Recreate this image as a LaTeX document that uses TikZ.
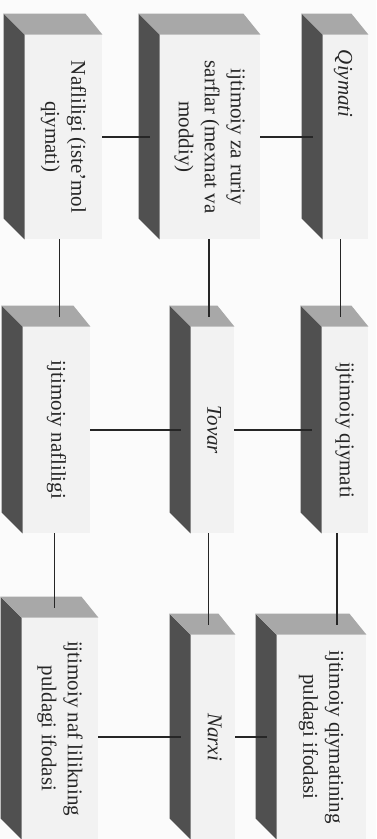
\documentclass[tikz,border=0pt]{standalone}
\usepackage{fontspec}
\setmainfont{Liberation Serif}
\usetikzlibrary{fit,calc}
\definecolor{paper}{HTML}{FBFBFB}
\definecolor{slab}{HTML}{F2F2F2}
\definecolor{slabside}{HTML}{505050}
\definecolor{slabtop}{HTML}{A8A8A8}
\definecolor{ink}{HTML}{262626}
\tikzset{fig/.style={x=0.5pt,y=-0.5pt,line join=round},
  slabface/.style={fill=slab,inner sep=0pt,font=\fontsize{10.5}{13}\selectfont,text=ink},
  slabtext/.style={inner sep=0pt,font=\fontsize{10.5}{13}\selectfont,text=ink},
  link/.style={ink,line width=0.7pt}}
\newcommand{\figTxt}[1]{\rotatebox{-90}{\begin{tabular}{@{}c@{}}#1\end{tabular}}}
\newcommand{\figSlab}[4]{\node[slabface,fit={#2 #3}](#1){#4};
  \fill[slabside](#1.north west)--++(-21,-21)--($(#1.south west)+(-21,-21)$)--(#1.south west)--cycle;
  \fill[slabtop](#1.north west)--++(-21,-21)--($(#1.north east)+(-17,-21)$)--(#1.north east)--cycle;
  \coordinate(#1top)at($(#1.north)+(-10,-10)$);}

\begin{document}
\begin{tikzpicture}[fig]
  \useasboundingbox[fill=paper](0,0)rectangle(376,839);
  \figSlab{nafl}{(25,35)}{(102,239)}{\figTxt{Nafliligi (iste'mol\\qiymati)}}
  \figSlab{sarf}{(160,35)}{(260,239)}{\figTxt{ijtimoiy za ruriy\\sarflar (mexnat va\\moddiy)}}
  \figSlab{qiym}{(323,35)}{(368,239)}{}
  \node[slabtext,anchor=north](qiymt)at($(qiym.north)+(-2,15)$){\figTxt{\textit{Qiymati}}};
  \figSlab{ijnaf}{(23,327)}{(90,533)}{\figTxt{ijtimoiy nafliligi}}
  \figSlab{tovar}{(191,327)}{(234,533)}{\figTxt{\textit{Tovar}}}
  \figSlab{ijqiy}{(322,327)}{(368,533)}{\figTxt{ijtimoiy qiymati}}
  \figSlab{pulnaf}{(22,618)}{(98,839)}{\figTxt{ijtimoiy naf lilikning\\puldagi ifodasi}}
  \figSlab{narx}{(191,635)}{(235,839)}{\figTxt{\textit{Narxi}}}
  \figSlab{pulqiy}{(277,635)}{(366,839)}{\figTxt{ijtimoiy qiymatining\\puldagi ifodasi}}
  \draw[link,shorten >=5pt](nafl.east|-sarf.west)--(sarf.west);
  \draw[link,shorten >=5pt](sarf.east|-qiym.west)--(qiym.west);
  \draw[link,shorten >=5pt](ijnaf.east|-tovar.west)--(tovar.west);
  \draw[link,shorten >=5pt](tovar.east|-ijqiy.west)--(ijqiy.west);
  \draw[link,shorten >=5pt](pulnaf.east|-narx.west)--(narx.west);
  \draw[link,shorten >=5pt](narx.east|-pulqiy.west)--(pulqiy.west);
  \draw[link]($(nafl.south)+(-4,0)$)--($(nafl.south|-ijnaftop)+(-4,0)$);
  \draw[link]($(sarf.south)+(-1,0)$)--($(sarf.south|-tovartop)+(-1,0)$);
  \draw[link]($(qiym.south)+(-5,0)$)--($(qiym.south|-ijqiytop)+(-5,0)$);
  \draw[link]($(ijnaf.south)+(-2,0)$)--($(ijnaf.south|-pulnaftop)+(-2,0)$);
  \draw[link]($(tovar.south)+(-4,0)$)--($(tovar.south|-narxtop)+(-4,0)$);
  \draw[link]($(ijqiy.south)+(-8,0)$)--($(ijqiy.south|-pulqiytop)+(-8,0)$);
\end{tikzpicture}
\end{document}
